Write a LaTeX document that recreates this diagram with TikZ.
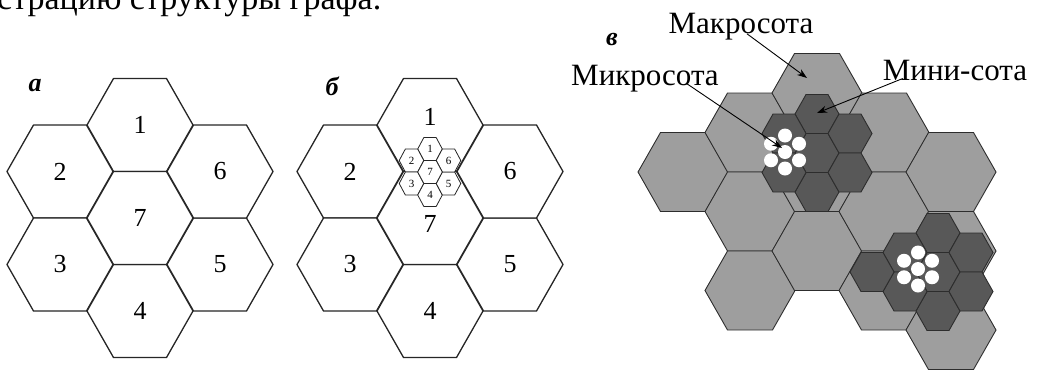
\documentclass[tikz,border=0pt]{standalone}
\usepackage{fontspec}
\setmainfont{Liberation Serif}
\usetikzlibrary{arrows.meta}
\definecolor{macrofill}{RGB}{158,158,158}
\definecolor{minifill}{RGB}{88,88,88}
\definecolor{edgecol}{RGB}{45,45,45}
\newcommand\hexcell[5]{\path[#1] ({#2+#4},#3) -- ({#2+#4/2},{#3+#5}) -- ({#2-#4/2},{#3+#5}) -- ({#2-#4},#3) -- ({#2-#4/2},{#3-#5}) -- ({#2+#4/2},{#3-#5}) -- cycle;}
\tikzset{
  bighex/.style={draw=black!85, line width=1.3pt, line join=round, fill=white},
  smallhex/.style={draw=black!85, line width=0.8pt, fill=white},
  macrohex/.style={draw=edgecol, line width=0.9pt, fill=macrofill},
  minihex/.style={draw=edgecol, line width=0.9pt, fill=minifill},
  micro/.style={fill=white, draw=none},
  num/.style={inner sep=0pt, font=\fontsize{26}{30}\selectfont},
  snum/.style={inner sep=0pt, font=\fontsize{11}{12}\selectfont},
  panel/.style={inner sep=0pt, font=\fontsize{26}{30}\selectfont\bfseries\itshape},
  lbl/.style={inner sep=0pt, anchor=base, font=\fontsize{31}{34}\selectfont},
  arr/.style={line width=0.9pt, -{Stealth[length=10pt,width=7pt]}}
}
\begin{document}
\begin{tikzpicture}[x=1pt,y=-1pt]
\useasboundingbox (0,0) rectangle (1038,373);
% cut-off line of text at the top
\node[inner sep=0pt, anchor=base west, font=\fontsize{34}{36}\selectfont] (toptext) at (-3,9) {страцию структуры графа.};
% ---------- panel a ----------
\node[panel] (pa) at (35,86) {а};
\foreach \dx/\dy/\t in {0/-93/1,-80/-46.5/2,-80/46.5/3,0/93/4,80/46.5/5,80/-46.5/6,0/0/7}{
  \hexcell{bighex}{140+\dx}{218+\dy}{53}{46.5}
  \node[num] (a\t) at ({140+\dx},{218+\dy}) {\t};
}
% ---------- panel b ----------
\node[panel] (pb) at (332,86) {б};
\foreach \dx/\dy/\t/\ly in {0/-93/1/-8,-80/-46.5/2/0,-80/46.5/3/0,0/93/4/0,80/46.5/5/0,80/-46.5/6/0,0/0/7/6}{
  \hexcell{bighex}{430+\dx}{218+\dy}{53}{46.5}
  \node[num] (b\t) at ({430+\dx},{218+\dy+\ly}) {\t};
}
\foreach \dx/\dy/\t in {0/-23/1,-18.5/-11.5/2,-18.5/11.5/3,0/23/4,18.5/11.5/5,18.5/-11.5/6,0/0/7}{
  \hexcell{smallhex}{430+\dx}{172+\dy}{12.3}{11.5}
  \node[snum] (s\t) at ({430+\dx},{172+\dy}) {\t};
}
% ---------- panel c ----------
\node[panel] (pc) at (612,39) {в};
\foreach \cx/\cy in {683/172,750/132.5,750/211.5,750/290.5,817/93,817/172,817/251,884/132.5,884/211.5,884/290.5,951/172,951/251,951/330}{
  \hexcell{macrohex}{\cx}{\cy}{45}{39.5}
}
% mini-cells, cluster 1
\foreach \dx/\dy in {0/-39,0/0,0/39,-33/-19.5,-33/19.5,33/-19.5,33/19.5}{
  \hexcell{minihex}{817+\dx}{153+\dy}{22}{19.5}
}
% mini-cells, cluster 2
\foreach \dx/\dy in {0/-39,0/0,0/39,-33/-19.5,-33/19.5,33/-19.5,33/19.5,-66/0}{
  \hexcell{minihex}{938+\dx}{272+\dy}{22}{19.5}
}
% micro-cells
\foreach \mx/\my in {785/152,918/269}{
  \foreach \dx/\dy in {0/0,0/-16.5,0/16.5,-14/-8.25,-14/8.25,14/-8.25,14/8.25}{
    \fill[micro] ({\mx+\dx},{\my+\dy}) circle (7);
  }
}
% labels and leaders
\node[lbl] (lmacro) at (741,33) {Макросота};
\node[lbl] (lmicro) at (645,85) {Микросота};
\node[lbl] (lmini) at (955,80) {Мини-сота};
\coordinate (tmacro) at (807,78);
\coordinate (tmini) at (817,113);
\coordinate (tmicro) at (782,148);
\draw[arr] ([xshift=6pt,yshift=6pt]lmacro.south) -- (tmacro);
\draw[arr] ([xshift=20pt,yshift=2pt]lmini.south west) -- (tmini);
\draw[arr] ([xshift=42pt,yshift=8pt]lmicro.south) -- (tmicro);
\end{tikzpicture}
\end{document}
